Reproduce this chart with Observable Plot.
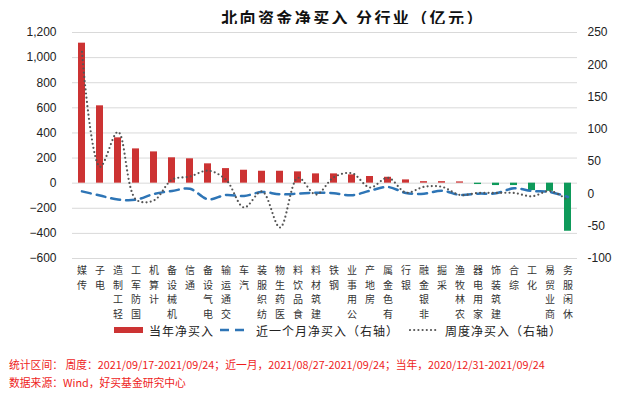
<!DOCTYPE html>
<html>
<head>
<meta charset="utf-8">
<script src="https://cdn.jsdelivr.net/npm/d3@7"></script>
<script src="https://cdn.jsdelivr.net/npm/@observablehq/plot@0.6"></script>
<style>
  html, body { margin: 0; padding: 0; background: #fff; }
  body { width: 628px; height: 394px; position: relative; overflow: hidden; font-family: "Noto Sans CJK SC", sans-serif; }
  #title { position: absolute; left: 0; width: 628px; top: 6px; text-align: center; padding-left: 78px; box-sizing: border-box;
           font-size: 16px; font-weight: 700; color: #111; letter-spacing: 2.4px; line-height: 22px; }
  #chart { position: absolute; left: 0; top: 24px; }
  #legend { position: absolute; top: 321px; left: 114px; height: 18px; display: flex; align-items: center; font-size: 12px; color: #222; letter-spacing: 1px; }
  .sw { display: inline-block; margin-right: 6px; }
  .item { display: flex; align-items: center; margin-right: 6px; }
  #note { position: absolute; left: 9px; top: 355px; font-size: 10.8px; color: #ee1c1c; line-height: 18px; font-family: "Noto Sans CJK SC", sans-serif; }
</style>
</head>
<body>
<div id="title">北向资金净买入 分行业（亿元）</div>
<div id="chart"></div>
<div id="legend">
  <div class="item"><svg class="sw" width="29" height="8"><rect x="0" y="1" width="29" height="6" fill="#cc3333"/></svg>当年净买入</div>
  <div class="item"><svg class="sw" width="30" height="8"><line x1="0" y1="4" x2="30" y2="4" stroke="#2e75b6" stroke-width="2.5" stroke-dasharray="9,6"/></svg>近一个月净买入（右轴）</div>
  <div class="item" style="margin-left:4px"><svg class="sw" width="30" height="8"><line x1="1" y1="4" x2="30" y2="4" stroke="#555" stroke-width="2.2" stroke-linecap="round" stroke-dasharray="0,4.2"/></svg>周度净买入（右轴）</div>
</div>
<div id="note">统计区间：&nbsp;周度：2021/09/17-2021/09/24；近一月，2021/08/27-2021/09/24；当年，2020/12/31-2021/09/24<br>数据来源：Wind，好买基金研究中心</div>
<script>
const categories = ["传媒","电子","轻工制造","国防军工","计算机","机械设备","通信","电气设备","交通运输","汽车","纺织服装","医药生物","食品饮料","建筑材料","钢铁","公用事业","房地产","有色金属","银行","非银金融","采掘","农林牧渔","家用电器","建筑装饰","综合","化工","商业贸易","休闲服务"];
const yearNet  = [1115, 616, 361, 273, 249, 202, 194, 154, 116, 103, 95, 95, 90, 74, 74, 66, 53, 47, 26, 12, 12, 10, -11, -19, -19, -59, -65, -383];
const monthNet = [4, -2.5, -8.7, -8.9, 0, 4.5, 8, -8.4, -1.6, -3.2, 3, -0.6, 0.4, 2, 1, -2, 5, 10.7, 1.5, 0.4, 5, -1.6, 0.4, 1, 8.7, 4.5, 3, -4.8];
const weekNet  = [220, 42, 96, -8.7, -10, 22, 27, 36, 22, -21, 4, -52, 25, -1, 26, 32, 10, 25, 2, 11, 11, -1.6, 1.5, 1.5, 1.5, -3.7, 4.5, -10];
const leftTicks = [-600, -400, -200, 0, 200, 400, 600, 800, 1000, 1200];
const rightTicks = [-100, -50, 0, 50, 100, 150, 200, 250];

// map right-axis values onto the left-axis domain
const L0 = -600, L1 = 1200, R0 = -100, R1 = 250;
const toLeft = v => L0 + (v - R0) * (L1 - L0) / (R1 - R0);
const fromLeft = v => R0 + (v - L0) * (R1 - R0) / (L1 - L0);

const data = categories.map((c, i) => ({cat: c, year: yearNet[i], month: monthNet[i], week: weekNet[i]}));

const chart = Plot.plot({
  width: 628,
  height: 296,
  marginLeft: 72,
  marginRight: 51,
  marginTop: 8,
  marginBottom: 62,
  style: {fontFamily: "'Noto Sans CJK SC', sans-serif", background: "#fff"},
  x: {type: "band", domain: categories, padding: 0.6, paddingOuter: 0.3, align: 0.5},
  y: {domain: [L0, L1]},
  marks: [
    Plot.gridY(leftTicks, {stroke: "#d9d9d9", strokeOpacity: 1, strokeWidth: 1}),
    Plot.barY(data.filter(d => d.year >= 0), {x: "cat", y: "year", fill: "#cc3333"}),
    Plot.barY(data.filter(d => d.year < 0), {x: "cat", y: "year", fill: "#0e9a5a"}),
    Plot.line(data, {x: "cat", y: d => toLeft(d.month), stroke: "#2e75b6", strokeWidth: 2.5, strokeDasharray: "9,6", curve: "catmull-rom"}),
    Plot.line(data, {x: "cat", y: d => toLeft(d.week), stroke: "#555", strokeWidth: 2.2, strokeDasharray: "0,4.2", strokeLinecap: "round", curve: "catmull-rom"}),
    Plot.axisY({anchor: "left", ticks: leftTicks, tickSize: 0, tickPadding: 16, tickFormat: d3.format(","), fontSize: 12, fill: "#222", fontFamily: "'Liberation Sans', Arial, sans-serif", label: null}),
    Plot.axisY({anchor: "right", ticks: rightTicks.map(toLeft), tickSize: 0, tickPadding: 10, tickFormat: d => String(Math.round(fromLeft(d))), fontSize: 12, fill: "#222", fontFamily: "'Liberation Sans', Arial, sans-serif", label: null}),
    Plot.axisX({anchor: "bottom", tickSize: 0, tickPadding: 5, tickFormat: d => [...d].reverse().join("\n"), lineHeight: 1.47, fontSize: 10, fill: "#333", label: null})
  ]
});
document.getElementById("chart").appendChild(chart);
</script>
</body>
</html>
